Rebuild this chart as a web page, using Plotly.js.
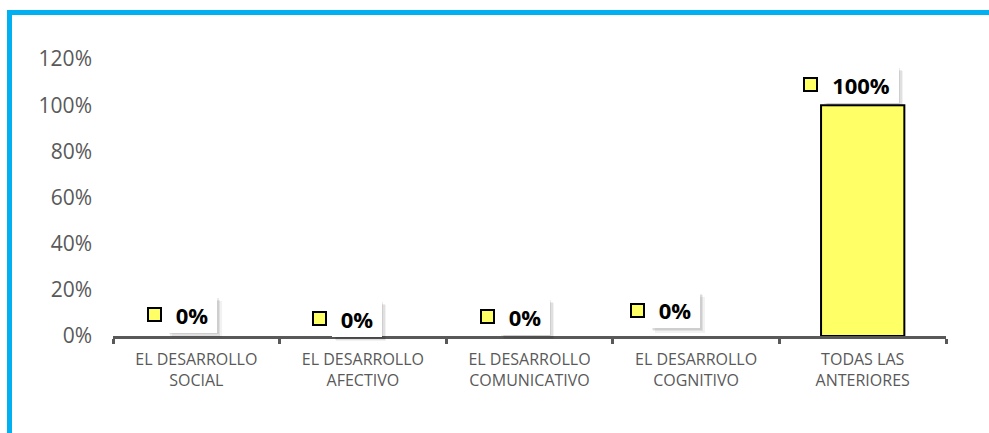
<!DOCTYPE html>
<html><head><meta charset="utf-8">
<script src="https://cdn.plot.ly/plotly-3.0.1.min.js"></script>
<style>
html,body{margin:0;padding:0;background:#fff;}
#frame{position:absolute;left:7px;top:10px;width:982px;height:423px;border-left:5px solid #00B0F0;border-top:5px solid #00B0F0;box-sizing:border-box;}
#chart{position:absolute;left:0;top:0;width:989px;height:433px;}
</style></head><body>
<div id="frame"></div><div id="chart"></div>
<script>
const categories = ['EL DESARROLLO<br>SOCIAL', 'EL DESARROLLO<br>AFECTIVO', 'EL DESARROLLO<br>COMUNICATIVO', 'EL DESARROLLO<br>COGNITIVO', 'TODAS LAS<br>ANTERIORES'];
const values = [0, 0, 0, 0, 1];
const labelTexts = ['0%', '0%', '0%', '0%', '100%'];
// label placement offsets (pixels), as moved in the original
const labelDx = [-29, -31, -30, -46, -40];
const labelDy = [21.5, 17.5, 19.5, 26, 20.5];

const FONT = 'Open Sans, sans-serif';
const LABEL_SIZE = 22;
const cv = document.createElement('canvas').getContext('2d');
cv.font = 'bold ' + LABEL_SIZE + 'px "Open Sans"';

const annotations = [];
categories.forEach((c, i) => {
  const w = Math.round(cv.measureText(labelTexts[i]).width) + 18;
  const h = 36;
  const base = {x: c, y: values[i], xref: 'x', yref: 'y', showarrow: false, yanchor: 'middle'};
  const lf = {family: FONT, size: LABEL_SIZE, weight: 'bold', color: '#000000'};
  const box = Object.assign({}, base, {width: w, height: h, borderpad: 0, borderwidth: 0, xanchor: 'left'});
  [[4.5, 0.05], [3, 0.07], [1.5, 0.08]].forEach(([o, a]) => {
    annotations.push(Object.assign({}, box, {text: ' ', bgcolor: 'rgba(0,0,0,' + a + ')', xshift: labelDx[i] + o, yshift: labelDy[i] - o}));
  });
  annotations.push(Object.assign({}, box, {text: '<b>' + labelTexts[i] + '</b>', font: lf, bgcolor: '#ffffff', xshift: labelDx[i], yshift: labelDy[i]}));
  annotations.push(Object.assign({}, base, {text: ' ', width: 11, height: 11, bgcolor: '#FFFF66', bordercolor: '#000000', borderwidth: 2, borderpad: 0, xanchor: 'right', xshift: labelDx[i] - 5, yshift: labelDy[i]}));
});

const trace = {
  type: 'bar', x: categories, y: values,
  marker: {color: '#FFFF66', line: {color: '#000000', width: values.map(v => v > 0 ? 2 : 0)}},
  hoverinfo: 'skip'
};

const layout = {
  width: 989, height: 433,
  margin: {l: 113, r: 43, t: 59, b: 97},
  paper_bgcolor: 'rgba(0,0,0,0)', plot_bgcolor: 'rgba(0,0,0,0)',
  bargap: 0.5, showlegend: false,
  font: {family: FONT, color: '#595959'},
  xaxis: {
    type: 'category', showgrid: false, zeroline: false,
    showline: true, linecolor: '#595959', linewidth: 3,
    ticks: 'outside', tickson: 'boundaries', ticklen: 5, tickwidth: 3, tickcolor: '#595959',
    ticklabelstandoff: 7,
    tickfont: {family: FONT, size: 16, color: '#595959'}
  },
  yaxis: {
    range: [0, 1.2], dtick: 0.2, tickformat: '.0%',
    showgrid: false, zeroline: false, showline: false, ticks: '',
    ticklabelstandoff: 20,
    tickfont: {family: FONT, size: 21, color: '#595959'}
  },
  annotations: annotations
};
Plotly.newPlot('chart', [trace], layout, {displayModeBar: false, staticPlot: true});
</script></body></html>
